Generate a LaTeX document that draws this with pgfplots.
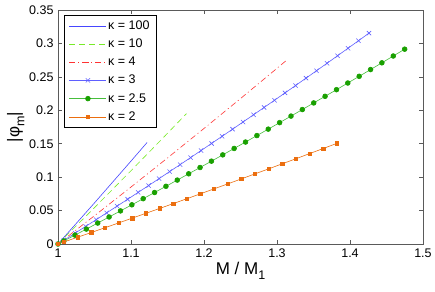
\documentclass[border=0pt]{standalone}
\usepackage{fontspec}
\setmainfont{Liberation Sans}
\usepackage{pgfplots}
\pgfplotsset{compat=1.18}
\definecolor{cA}{RGB}{70,70,255}
\definecolor{cB}{RGB}{120,235,40}
\definecolor{cC}{RGB}{255,50,50}
\definecolor{cD}{RGB}{95,95,255}
\definecolor{cEl}{RGB}{70,190,60}
\definecolor{cEm}{RGB}{25,160,0}
\definecolor{cF}{RGB}{235,110,15}
\definecolor{axc}{RGB}{90,90,90}
\begin{document}
\begin{tikzpicture}
\begin{axis}[
  scale only axis,
  width=365pt, height=234pt,
  xmin=1, xmax=1.5, ymin=0, ymax=0.35,
  xtick={1,1.1,1.2,1.3,1.4,1.5},
  ytick={0,0.05,0.1,0.15,0.2,0.25,0.3,0.35},
  xticklabels={1,1.1,1.2,1.3,1.4,1.5},
  yticklabels={0,0.05,0.1,0.15,0.2,0.25,0.3,0.35},
  tick align=inside,
  major tick length=4pt,
  axis line style={axc, line width=0.9pt},
  every tick/.style={axc, line width=0.6pt},
  tick label style={font=\fontsize{12.5}{14}\selectfont},
  xticklabel style={yshift=-1pt},
  yticklabel style={xshift=-1pt},
  xlabel={M / M\raisebox{-0.55ex}{\fontsize{12.5}{14}\selectfont 1}},
  ylabel={|φ\raisebox{-0.55ex}{\fontsize{12.5}{14}\selectfont m}|},
  label style={font=\fontsize{17}{20}\selectfont},
  xlabel style={yshift=2pt},
  ylabel style={yshift=-2pt},
  legend style={at={(0.016,0.979)}, anchor=north west, draw=black, line width=0.6pt,
    font=\fontsize{12.5}{14}\selectfont, inner xsep=5pt, inner ysep=4pt, row sep=5pt,
    nodes={inner sep=1.5pt}},
  legend cell align=left,
  legend image code/.code={\draw[mark repeat=2,mark phase=2] plot coordinates {(0cm,0cm) (0.65cm,0cm) (1.3cm,0cm)};},
]
\addplot[cA, line width=0.6pt] coordinates {(1,0) (1.05,0.0615) (1.1,0.124) (1.122,0.1518)};
\addlegendentry{κ = 100}
\addplot[cB, line width=0.6pt, dash pattern=on 6pt off 4pt] coordinates {(1,0) (1.05,0.0544) (1.1,0.1096) (1.15,0.1656) (1.176,0.195)};
\addlegendentry{κ = 10}
\addplot[cC, line width=0.6pt, dash pattern=on 6pt off 3pt on 1pt off 3pt] coordinates {(1,0) (1.05,0.0423) (1.1,0.0852) (1.15,0.1287) (1.2,0.1728) (1.25,0.2175) (1.3,0.2628) (1.313,0.2747)};
\addlegendentry{κ = 4}
\addplot[cD, line width=0.6pt, mark=x, mark size=3pt] coordinates {
(1,0) (1.008,0.0055) (1.0235,0.0163) (1.0379,0.0263) (1.0523,0.0364) (1.0666,0.0465) (1.0810,0.0567) (1.0954,0.0669) (1.1098,0.0772) (1.1241,0.0874) (1.1385,0.0978) (1.1529,0.1083) (1.1673,0.1187) (1.1816,0.1292) (1.1960,0.1398) (1.2104,0.1504) (1.2248,0.1611) (1.2391,0.1717) (1.2535,0.1825) (1.2679,0.1933) (1.2823,0.2042) (1.2966,0.2150) (1.3110,0.2260) (1.3254,0.2370) (1.3398,0.2481) (1.3541,0.2591) (1.3685,0.2703) (1.3829,0.2815) (1.3973,0.2928) (1.4116,0.3040) (1.4260,0.3154)};
\addlegendentry{κ = 3}
\addplot[cEl, line width=0.6pt, mark=*, mark size=2.4pt, mark options={draw=cEm, fill=cEm}] coordinates {
(1,0) (1.008,0.0046) (1.0233,0.0133) (1.0389,0.0223) (1.0544,0.0313) (1.0700,0.0404) (1.0856,0.0495) (1.1012,0.0586) (1.1167,0.0678) (1.1323,0.0770) (1.1479,0.0863) (1.1634,0.0956) (1.1790,0.1050) (1.1946,0.1144) (1.2102,0.1239) (1.2257,0.1333) (1.2413,0.1429) (1.2569,0.1525) (1.2725,0.1622) (1.2880,0.1718) (1.3036,0.1815) (1.3192,0.1913) (1.3347,0.2011) (1.3503,0.2110) (1.3659,0.2209) (1.3815,0.2308) (1.3970,0.2408) (1.4126,0.2508) (1.4282,0.2609) (1.4437,0.2710) (1.4593,0.2812) (1.4749,0.2914)};
\addlegendentry{κ = 2.5}
\addplot[cF, line width=0.6pt, mark=square*, mark size=1.7pt, mark options={fill=cF}] coordinates {
(1,0) (1.008,0.0030) (1.027,0.0102) (1.0457,0.0172) (1.0644,0.0244) (1.0831,0.0315) (1.1017,0.0387) (1.1204,0.0459) (1.1391,0.0531) (1.1578,0.0604) (1.1765,0.0677) (1.1952,0.0751) (1.2138,0.0825) (1.2325,0.0899) (1.2512,0.0974) (1.2699,0.1049) (1.2886,0.1124) (1.3073,0.1200) (1.3259,0.1275) (1.3446,0.1352) (1.3633,0.1428) (1.3820,0.1505)};
\addlegendentry{κ = 2}
\end{axis}
\path (current axis.south west) ++(-58pt,-48pt) rectangle ++(435pt,292pt);
\end{tikzpicture}
\end{document}
